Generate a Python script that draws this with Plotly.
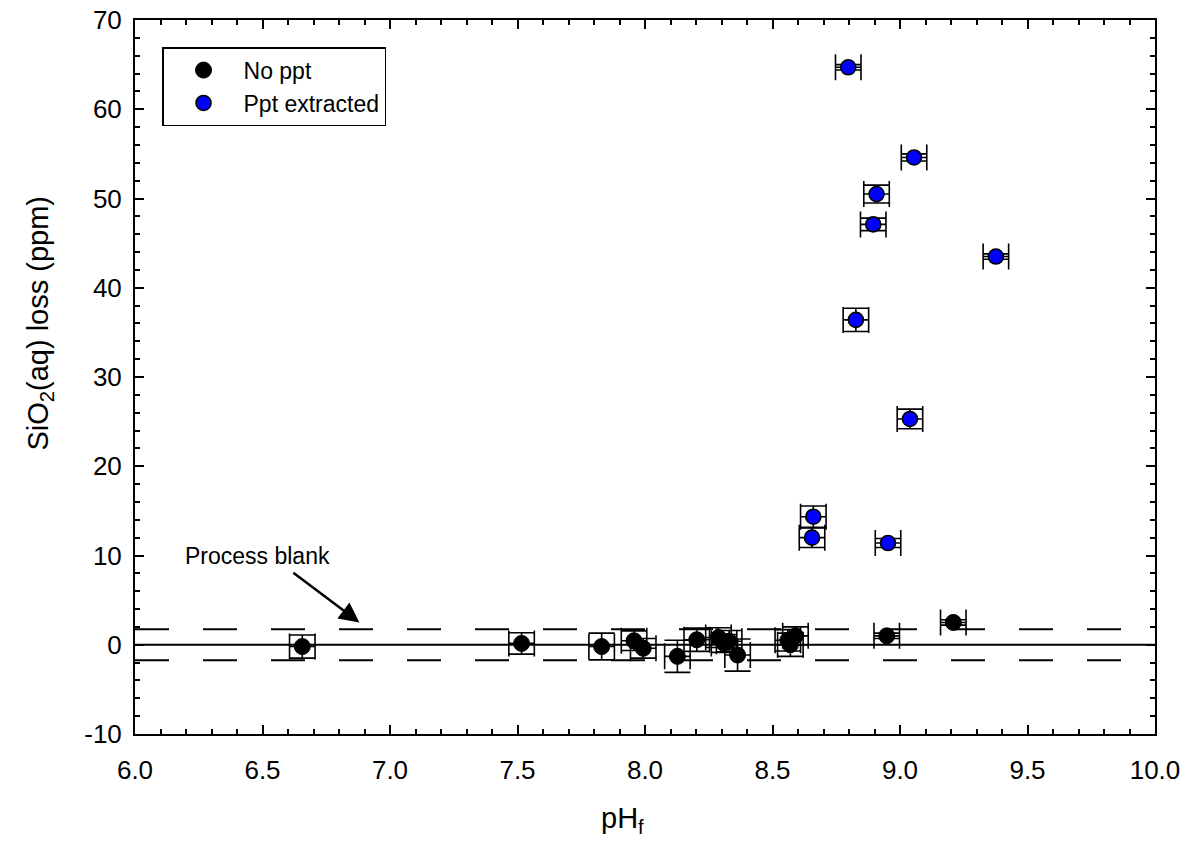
import plotly.graph_objects as go

# pH_f and SiO2(aq) loss with uncertainties
no_ppt_ph = [6.656, 7.516, 7.83, 7.957, 7.993, 8.127, 8.203, 8.288, 8.31, 8.33, 8.363,
             8.56, 8.57, 8.59, 8.948, 9.209]
no_ppt_loss = [-0.2, 0.15, -0.2, 0.45, -0.4, -1.3, 0.56, 0.8, 0.15, 0.4, -1.15,
               0.5, 0.0, 1.0, 1.0, 2.5]
no_ppt_ph_err = [0.05] * len(no_ppt_ph)
no_ppt_loss_err = [1.3, 1.2, 1.5, 1.1, 1.1, 1.8, 1.3, 1.1, 1.0, 1.2, 1.8,
                   1.2, 1.3, 1.0, 0.3, 0.3]

ppt_ph = [8.797, 9.055, 8.908, 8.895, 9.376, 8.827, 9.039, 8.66, 8.655, 8.953]
ppt_loss = [64.7, 54.6, 50.5, 47.1, 43.5, 36.4, 25.3, 14.35, 12.0, 11.4]
ppt_ph_err = [0.05] * len(ppt_ph)
ppt_loss_err = [0.3, 0.4, 1.0, 0.7, 0.3, 1.3, 1.1, 1.2, 1.1, 0.5]

blank_level = 1.75
x_range = [6.0, 10.0]
y_range = [-10, 70]
x_ticks = [6.0, 6.5, 7.0, 7.5, 8.0, 8.5, 9.0, 9.5, 10.0]
y_ticks = [-10, 0, 10, 20, 30, 40, 50, 60, 70]
y_tick_text = ["-10", "0", "10", "20", "30", "40", "50", "60", "70"]

font_family = "Liberation Sans, Arial, sans-serif"

fig = go.Figure()

# process-blank reference lines
fig.add_trace(go.Scatter(x=x_range, y=[0, 0], mode="lines",
                         line=dict(color="black", width=2), showlegend=False,
                         hoverinfo="skip"))
for lvl in (blank_level, -blank_level):
    fig.add_trace(go.Scatter(x=x_range, y=[lvl, lvl], mode="lines",
                             line=dict(color="black", width=2, dash="34px,34px"),
                             showlegend=False, hoverinfo="skip"))

err_style = dict(type="data", color="black", thickness=1.6, width=13)

fig.add_trace(go.Scatter(
    x=no_ppt_ph, y=no_ppt_loss, mode="markers", name="No ppt",
    marker=dict(color="black", size=16, line=dict(color="black", width=1)),
    error_x=dict(array=no_ppt_ph_err, **err_style),
    error_y=dict(array=no_ppt_loss_err, **err_style),
))
fig.add_trace(go.Scatter(
    x=ppt_ph, y=ppt_loss, mode="markers", name="Ppt extracted",
    marker=dict(color="#0000ff", size=15, line=dict(color="black", width=1.6)),
    error_x=dict(array=ppt_ph_err, **err_style),
    error_y=dict(array=ppt_loss_err, **err_style),
))

fig.add_annotation(
    x=6.88, y=2.5, ax=6.615, ay=8.2, xref="x", yref="y", axref="x", ayref="y",
    text="", showarrow=True, arrowhead=2, arrowsize=1.6, arrowwidth=2.5,
    arrowcolor="black",
)
fig.add_annotation(
    x=6.48, y=9.9, xref="x", yref="y", text="Process blank", showarrow=False,
    font=dict(size=23, color="black", family=font_family),
)

# axis titles
fig.add_annotation(
    x=0.478, y=-0.12, xref="paper", yref="paper", xanchor="center", yanchor="middle",
    text="pH<sub>f</sub>", showarrow=False,
    font=dict(size=29, color="black", family=font_family),
)
fig.add_annotation(
    x=-0.093, y=0.575, xref="paper", yref="paper", xanchor="center", yanchor="middle",
    text="SiO<sub>2</sub>(aq) loss (ppm)", showarrow=False, textangle=-90,
    font=dict(size=29, color="black", family=font_family),
)

axis_common = dict(
    showline=True, linecolor="black", linewidth=2, mirror="allticks",
    ticks="inside", ticklen=9, tickwidth=2, tickcolor="black",
    showgrid=False, zeroline=False, automargin=False,
    tickfont=dict(size=26, color="black", family=font_family),
)

fig.update_xaxes(
    range=x_range, tickvals=x_ticks, tickformat=".1f", ticklabelstandoff=12,
    minor=dict(dtick=0.1, ticks="inside", ticklen=5, tickwidth=2, tickcolor="black"),
    **axis_common,
)
fig.update_yaxes(
    range=y_range, tickvals=y_ticks, ticktext=y_tick_text, ticklabelstandoff=6,
    minor=dict(dtick=2, ticks="inside", ticklen=5, tickwidth=2, tickcolor="black"),
    **axis_common,
)

fig.update_layout(
    width=1190, height=850,
    margin=dict(l=135, r=35, t=20, b=116),
    plot_bgcolor="white", paper_bgcolor="white",
    font=dict(family=font_family, color="black"),
    legend=dict(
        x=0.0265, y=0.962, xanchor="left", yanchor="top",
        bordercolor="black", borderwidth=1.5, bgcolor="white",
        font=dict(size=23, color="black", family=font_family),
        itemwidth=70, tracegroupgap=4,
    ),
)

fig.write_html("out.html")
